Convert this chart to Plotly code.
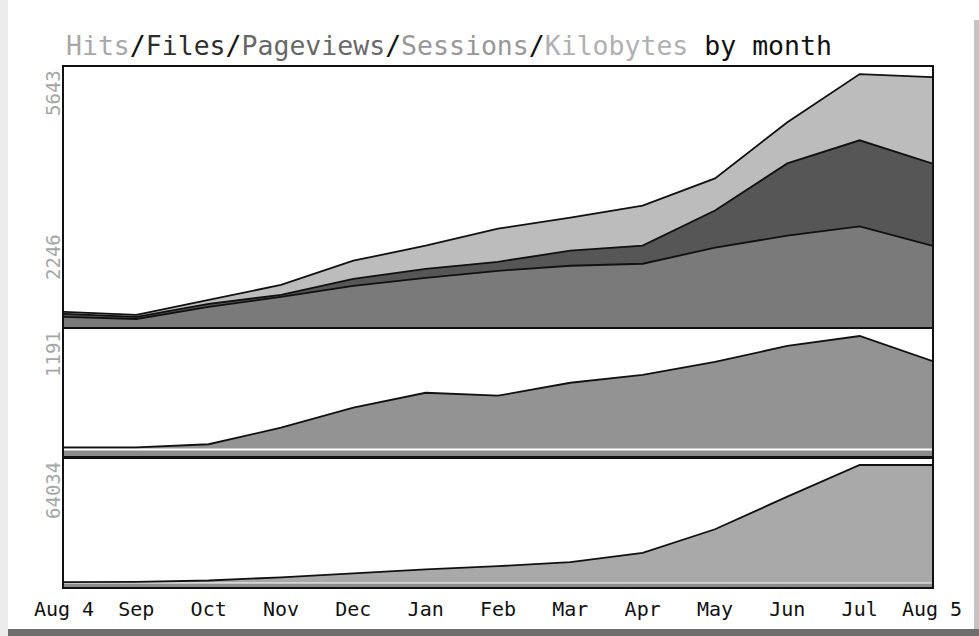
import plotly.graph_objects as go

# ---- data ----
months = ["Aug 4", "Sep", "Oct", "Nov", "Dec", "Jan", "Feb", "Mar", "Apr", "May", "Jun", "Jul", "Aug 5"]
hits = [336, 269, 605, 940, 1478, 1814, 2194, 2441, 2710, 3314, 4568, 5643, 5576]
files = [291, 224, 515, 717, 1075, 1298, 1455, 1702, 1814, 2598, 3650, 4165, 3650]
pageviews = [224, 179, 448, 672, 918, 1097, 1254, 1366, 1411, 1769, 2038, 2246, 1814]
sessions = [12, 12, 45, 221, 432, 590, 559, 696, 780, 917, 1086, 1191, 927]
kilobytes = [200, 300, 1100, 2800, 5000, 7200, 8900, 11100, 16100, 29000, 46800, 64034, 64034]
axis_labels = ["5643", "2246", "1191", "64034"]

W, H = 979, 636
def py(px):
    return 1 - px / H

FONT = "DejaVu Sans Mono"

fig = go.Figure()

def area(y, color, xa, ya, name):
    fig.add_trace(go.Scatter(
        x=months, y=y, mode="lines", fill="tozeroy", fillcolor=color,
        line=dict(color="#111111", width=1.8), xaxis=xa, yaxis=ya,
        name=name, showlegend=False, hoverinfo="skip"))

area(hits, "#bcbcbc", "x", "y", "Hits")
area(files, "#565656", "x", "y", "Files")
area(pageviews, "#7a7a7a", "x", "y", "Pageviews")
area(sessions, "#939393", "x2", "y2", "Sessions")
area(kilobytes, "#a9a9a9", "x3", "y3", "Kilobytes")

xdom = [64 / W, 932 / W]
common_x = dict(domain=xdom, range=[0, 12], showgrid=False, zeroline=False,
                showline=True, mirror=True, linecolor="#111111", linewidth=2,
                ticks="", automargin=False)
common_y = dict(showgrid=False, zeroline=False, showticklabels=False, automargin=False,
                showline=True, mirror=True, linecolor="#111111", linewidth=2, ticks="")

fig.update_layout(
    template="none",
    width=W, height=H,
    margin=dict(l=0, r=0, t=0, b=0, pad=0),
    paper_bgcolor="white", plot_bgcolor="white",
    xaxis=dict(**common_x, anchor="y", showticklabels=False),
    yaxis=dict(**common_y, domain=[py(327), py(67)], range=[0, 5800], anchor="x"),
    xaxis2=dict(**common_x, anchor="y2", showticklabels=False, matches="x"),
    yaxis2=dict(**common_y, domain=[py(457), py(329)], range=[-90, 1265], anchor="x2"),
    xaxis3=dict(**common_x, anchor="y3", matches="x", showticklabels=True,
                tickfont=dict(family=FONT, size=20, color="#111111"),
                ticklabelstandoff=3),
    yaxis3=dict(**common_y, domain=[py(587), py(458)], range=[-2452, 67847], anchor="x3"),
)

shapes = [
    # left light stripe
    dict(type="rect", xref="paper", yref="paper", x0=0, x1=8 / W, y0=0, y1=1,
         fillcolor="#ececec", line=dict(width=0), layer="below"),
    # right stripe
    dict(type="rect", xref="paper", yref="paper", x0=974 / W, x1=1, y0=0, y1=py(20),
         fillcolor="#c4c4c4", line=dict(width=0), layer="below"),
    # bottom shadow bar
    dict(type="rect", xref="paper", yref="paper", x0=8 / W, x1=1, y0=0, y1=py(629),
         fillcolor="#6e6e6e", line=dict(width=0), layer="below"),
    # baseline bands
    dict(type="rect", xref="x2 domain", yref="y2 domain", x0=0, x1=1, y0=0, y1=6.5 / 128,
         fillcolor="#8c8c8c", line=dict(width=0), layer="below"),
    dict(type="rect", xref="x3 domain", yref="y3 domain", x0=0, x1=1, y0=0, y1=3.5 / 129,
         fillcolor="#8c8c8c", line=dict(width=0), layer="below"),
]
fig.update_layout(shapes=shapes)

title = ('<span style="color:#a8a8a8">Hits</span>/'
         '<span style="color:#2e2e2e">Files</span>/'
         '<span style="color:#686868">Pageviews</span>/'
         '<span style="color:#979797">Sessions</span>/'
         '<span style="color:#b0b0b0">Kilobytes</span> by month')

annotations = [
    dict(text=title, xref="paper", yref="paper", x=64 / W, y=py(46), xanchor="left",
         yanchor="middle", showarrow=False, font=dict(family=FONT, size=26.5, color="#111111")),
]
label_pos = [93, 257, 354, 491]
for lab, ypx in zip(axis_labels, label_pos):
    annotations.append(dict(text=lab, xref="paper", yref="paper", x=53 / W, y=py(ypx),
                            xanchor="center", yanchor="middle", textangle=-90, showarrow=False,
                            font=dict(family=FONT, size=19, color="#a6a6a6")))
fig.update_layout(annotations=annotations)

fig.write_html("out.html", config={"displayModeBar": False},
               post_script="document.body.style.margin='0';")
